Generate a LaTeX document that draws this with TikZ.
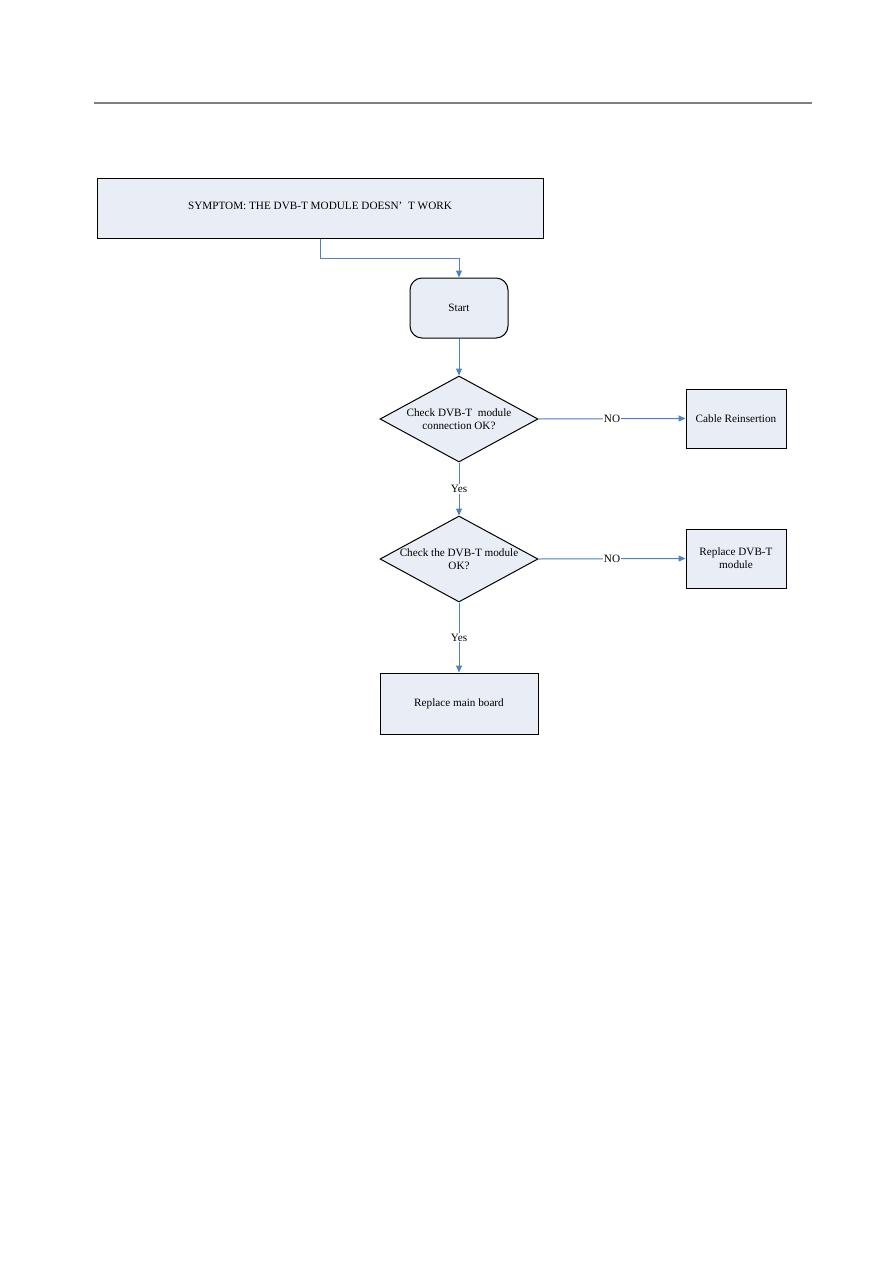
\documentclass[tikz,border=0pt]{standalone}
\usepackage{fontspec}
\setmainfont{Liberation Serif}
\usepackage{tikz}
\usepackage{xcolor}
\usetikzlibrary{shapes.geometric, arrows.meta}
\definecolor{flowblue}{HTML}{4F81BD}
\definecolor{boxfill}{HTML}{E9EEF6}

\begin{document}
\begin{tikzpicture}[x=1pt, y=-1pt, font=\fontsize{11.2}{13}\selectfont,
		box/.style={draw=black, line width=1pt, fill=boxfill, inner sep=0pt, align=center},
		decision/.style={diamond, draw=black, line width=1pt, fill=boxfill, inner sep=0pt, minimum width=158pt, minimum height=86pt},
		flow/.style={draw=flowblue, line width=1pt, -{Triangle[length=7pt, width=6pt]}},
		tag/.style={fill=white, inner sep=1pt}]
		\useasboundingbox (0, 0) rectangle (893, 1263);
		\draw[gray, line width=2pt] (94, 103) -- (812, 103);
		\node[box, minimum width=446pt, minimum height=60pt] (symptom) at (320, 208) {\raisebox{5pt}{SYMPTOM: THE DVB-T MODULE DOESN' \ T WORK}};
		\node[box, rounded corners=12pt, minimum width=98pt, minimum height=60pt] (start) at (459, 308) {Start};
		\node[decision, label={[align=center]center:Check DVB-T \ module\\connection OK?}] (conn) at (459, 419) {};
		\node[box, minimum width=100pt, minimum height=59pt] (cable) at (736, 418.5) {Cable Reinsertion};
		\node[decision, label={[align=center]center:Check the DVB-T module\\OK?}] (dvbt) at (459, 559) {};
		\node[box, minimum width=100pt, minimum height=59pt] (newdvbt) at (736, 558.5) {Replace DVB-T\\module};
		\node[box, minimum width=158pt, minimum height=61pt] (mainboard) at (459, 703.5) {Replace main board};
		\draw[flow] (symptom.south) -- (320, 258) -- (459, 258) -- (start.north);
		\draw[flow] (start) -- (conn);
		\draw[flow] (conn.east) -- node[tag]{NO} (cable.west);
		\draw[flow] (conn.south) -- node[tag]{Yes} (dvbt.north);
		\draw[flow] (dvbt.east) -- node[tag]{NO} (newdvbt.west);
		\draw[flow] (dvbt.south) -- node[tag]{Yes} (mainboard.north);
	\end{tikzpicture}
\end{document}
